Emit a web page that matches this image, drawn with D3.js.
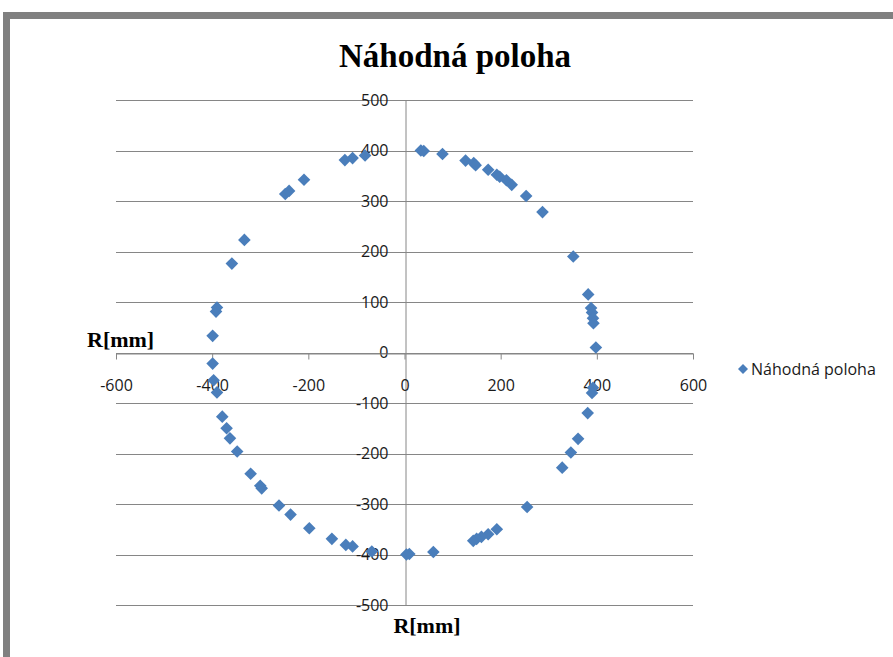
<!DOCTYPE html>
<html>
<head>
<meta charset="utf-8">
<script src="https://cdn.jsdelivr.net/npm/d3@7/dist/d3.min.js"></script>
<style>
  body { margin: 0; background: #fff; }
  .tick text { font-family: "Open Sans", sans-serif; font-size: 16px; fill: #1a1a1a; }
  .ttl { font-family: "Liberation Serif", "Times New Roman", serif; font-weight: bold; fill: #000; }
</style>
</head>
<body>
<div id="chartHolder"></div>
<script>
// values (x, y in mm)
const posX = [-359, -333, -248, -240, -209, -124, -108, -82,
  34, 40, 79, 127, 144, 148, 174, 192, 198, 212, 223, 253, 287, 351,
  382, 388, 390, 392, 393, 398, 392, 390, 381, 361, 346, 328, 255,
  192, 174, 160, 150, 143, 60, 10, 4,
  -68, -108, -122, -151, -198, -237, -261, -297, -300, -320, -348, -363, -370, -379,
  -390, -397, -399, -399, -392, -390];
const posY = [176, 223, 314, 320, 342, 381, 385, 390,
  400, 399, 393, 380, 375, 371, 362, 352, 348, 341, 332, 310, 278, 190,
  115, 88, 79, 68, 58, 10, -70, -80, -120, -171, -198, -228, -306,
  -350, -360, -365, -369, -373, -395, -399, -400,
  -394, -384, -381, -369, -348, -321, -303, -269, -264, -240, -196, -170, -150, -127,
  -79, -55, -22, 33, 81, 89];
const xTicks = [-600, -400, -200, 0, 200, 400, 600];
const yTicks = [-500, -400, -300, -200, -100, 0, 100, 200, 300, 400, 500];
const chartTitle = "Náhodná poloha";
const seriesName = "Náhodná poloha";
const axisName = "R[mm]";

const w = 893;
const h = 657;
const blue = "#4a7ebb";
const grid = "#868686";

const svg = d3.select("#chartHolder").append("svg")
  .attr("width", w)
  .attr("height", h);

// grey frame of the chart window (top and left)
svg.append("rect").attr("x", 3).attr("y", 12).attr("width", w - 3).attr("height", 7).attr("fill", "#808080");
svg.append("rect").attr("x", 3).attr("y", 12).attr("width", 7).attr("height", h - 12).attr("fill", "#808080");

const xScale = d3.scaleLinear().domain([-600, 600]).range([116, 693]);
const yScale = d3.scaleLinear().domain([-500, 500]).range([605, 100]);
const plain = (d) => String(d); // keep ascii hyphen like the original

// horizontal gridlines
svg.append("g").selectAll("line")
  .data(yTicks)
  .enter()
  .append("line")
  .attr("x1", xScale(-600))
  .attr("x2", xScale(600))
  .attr("y1", (d) => Math.round(yScale(d)) + 0.5)
  .attr("y2", (d) => Math.round(yScale(d)) + 0.5)
  .attr("stroke", grid);

// y axis crosses at x = 0
const yAxisCall = svg.append("g")
  .attr("transform", "translate(" + (Math.round(xScale(0)) + 0.5) + ",0)")
  .call(d3.axisLeft(yScale).tickValues(yTicks).tickFormat(plain).tickSize(0).tickSizeOuter(0).tickPadding(17));
yAxisCall.select(".domain").attr("stroke", grid);

// x axis crosses at y = 0
const xAxisCall = svg.append("g")
  .attr("transform", "translate(0," + (Math.round(yScale(0)) + 0.5) + ")")
  .call(d3.axisBottom(xScale).tickValues(xTicks).tickFormat(plain).tickSize(6).tickSizeOuter(0).tickPadding(20));
xAxisCall.select(".domain").attr("stroke", grid);
xAxisCall.selectAll("line").attr("stroke", grid);

const diamond = (r) => "M0," + (-r) + "L" + r + ",0L0," + r + "L" + (-r) + ",0Z";

// points
svg.append("g").selectAll("path")
  .data(posX.map((x, i) => [x, posY[i]]))
  .enter()
  .append("path")
  .attr("d", diamond(6.3))
  .attr("transform", (d) => "translate(" + xScale(d[0]) + "," + yScale(d[1]) + ")")
  .attr("fill", blue);

// titles
svg.append("text").attr("class", "ttl")
  .attr("x", 455).attr("y", 67)
  .attr("text-anchor", "middle")
  .style("font-size", "33px")
  .text(chartTitle);
svg.append("text").attr("class", "ttl")
  .attr("x", 427).attr("y", 633)
  .attr("text-anchor", "middle")
  .style("font-size", "22px")
  .text(axisName);
svg.append("text").attr("class", "ttl")
  .attr("x", 87).attr("y", 347)
  .style("font-size", "22px")
  .text(axisName);

// legend
const legend = svg.append("g").attr("transform", "translate(743,369)");
legend.append("path").attr("d", diamond(5)).attr("fill", blue);
legend.append("text")
  .attr("x", 8).attr("y", 6)
  .style("font-family", "'Open Sans', sans-serif")
  .style("font-size", "16px")
  .attr("fill", "#1a1a1a")
  .text(seriesName);
</script>
</body>
</html>
